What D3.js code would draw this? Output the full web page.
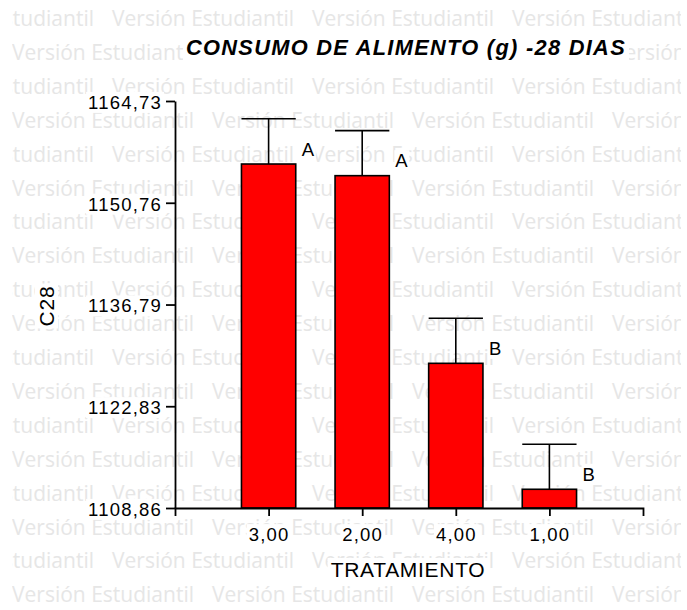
<!DOCTYPE html>
<html>
<head>
<meta charset="utf-8">
<script src="https://cdn.jsdelivr.net/npm/d3@7"></script>
<style>
  html, body { margin: 0; padding: 0; background: #fff; }
  svg text { font-family: "Liberation Sans", Arial, sans-serif; }
</style>
</head>
<body>
<svg id="chart" width="687" height="610"></svg>
<script>
// 数据：从图上读取
const categories = ["3,00", "2,00", "4,00", "1,00"];
const means = [1156.08, 1154.48, 1128.72, 1111.43];
const errors = [6.22, 6.18, 6.18, 6.18];
const groups = ["A", "A", "B", "B"];
const yTicks = [1108.86, 1122.83, 1136.79, 1150.76, 1164.73];

const title = "CONSUMO DE ALIMENTO (g) -28 DIAS";
const xTitle = "TRATAMIENTO";
const yTitle = "C28";
const mark = "Versión Estudiantil";

const svg = d3.select("#chart");
const W = 687, H = 610;
const m = { left: 175, right: 44, top: 101, bottom: 102 };

const x = d3.scalePoint().domain(categories).range([m.left, W - m.right]).padding(1);
const y = d3.scaleLinear().domain([yTicks[0], yTicks[yTicks.length - 1]]).range([H - m.bottom, m.top]);
const fmt = (v) => v.toFixed(2).replace(".", ",");

// 水印（画在最底层）
svg.append("clipPath").attr("id", "wm-clip")
  .append("rect").attr("x", 12).attr("y", 0).attr("width", 669).attr("height", H);
const wm = svg.append("g").attr("clip-path", "url(#wm-clip)")
  .style("font-family", "'Open Sans', sans-serif").style("font-size", "21px").attr("fill", "#e6e6e6");
for (let r = 0; r < 18; r++) {
  const off = r % 2 === 0 ? -88 : 12;
  for (let c = -1; c < 5; c++) {
    wm.append("text").attr("x", off + c * 200).attr("y", 26 + r * 33.9)
      .style("font-family", "'Open Sans', sans-serif").text(mark);
  }
}

// 给文字垫白底
function backing(sel, px, py) {
  sel.each(function () {
    const b = this.getBBox();
    d3.select(this.parentNode).insert("rect", () => this)
      .attr("x", b.x - px).attr("y", b.y - py).attr("width", b.width + 2 * px).attr("height", b.height + 2 * py)
      .attr("fill", "#fff");
  });
}

// 柱
const bw = x.step() * 0.58;
const g = svg.append("g");
g.selectAll("rect.bar").data(means).join("rect").attr("class", "bar")
  .attr("x", (d, i) => x(categories[i]) - bw / 2).attr("y", (d) => y(d))
  .attr("width", bw).attr("height", (d) => y(yTicks[0]) - y(d))
  .attr("fill", "#ff0000").attr("stroke", "#000").attr("stroke-width", 1.6);

// 误差线
g.selectAll("line.err").data(means).join("line").attr("class", "err")
  .attr("x1", (d, i) => x(categories[i])).attr("x2", (d, i) => x(categories[i]))
  .attr("y1", (d) => y(d)).attr("y2", (d, i) => y(d + errors[i]))
  .attr("stroke", "#000").attr("stroke-width", 1.6);
g.selectAll("line.cap").data(means).join("line").attr("class", "cap")
  .attr("x1", (d, i) => x(categories[i]) - bw / 2).attr("x2", (d, i) => x(categories[i]) + bw / 2)
  .attr("y1", (d, i) => y(d + errors[i])).attr("y2", (d, i) => y(d + errors[i]))
  .attr("stroke", "#000").attr("stroke-width", 1.6);

// 显著性字母
const lt = g.selectAll("text.grp").data(means).join("text").attr("class", "grp")
  .attr("x", (d, i) => x(categories[i]) + bw / 2 + 6).attr("y", (d) => y(d) - 8.5)
  .style("font-size", "18.5px").attr("fill", "#000").text((d, i) => groups[i]);
backing(lt, 1, 0);

// 坐标轴
const ya = svg.append("g").attr("transform", `translate(${m.left},0)`)
  .call(d3.axisLeft(y).tickValues(yTicks).tickFormat(fmt).tickSize(9).tickSizeOuter(0).tickPadding(4));
const xa = svg.append("g").attr("transform", `translate(0,${H - m.bottom})`)
  .call(d3.axisBottom(x).tickSize(8).tickSizeOuter(8).tickPadding(12));
[ya, xa].forEach((a) => {
  a.selectAll("path, line").attr("stroke", "#000").attr("stroke-width", 1.8);
  a.selectAll("text").attr("fill", "#000").style("font-size", "18.5px").style("letter-spacing", "1.2px")
    .style("font-family", "'Liberation Sans', Arial, sans-serif");
});
ya.selectAll("text").attr("dy", "0.4em");
backing(ya.selectAll("text"), 2, 0);
backing(xa.selectAll("text"), 2, 0);

// 标题
const tt = svg.append("text").attr("x", 406).attr("y", 55).attr("text-anchor", "middle")
  .style("font-size", "21.8px").style("font-weight", "bold").style("font-style", "italic")
  .style("letter-spacing", "1.3px").attr("fill", "#000").text(title);
backing(tt, 3, 0);

const xt = svg.append("text").attr("x", 408).attr("y", 577).attr("text-anchor", "middle")
  .style("font-size", "21px").style("letter-spacing", "0.7px").attr("fill", "#000").text(xTitle);
backing(xt, 3, 0);

const yt = svg.append("g").attr("transform", "translate(54,306) rotate(-90)");
const ytt = yt.append("text").attr("text-anchor", "middle")
  .style("font-size", "21px").style("letter-spacing", "0.8px").attr("fill", "#000").text(yTitle);
backing(ytt, 2, 0);
</script>
</body>
</html>
